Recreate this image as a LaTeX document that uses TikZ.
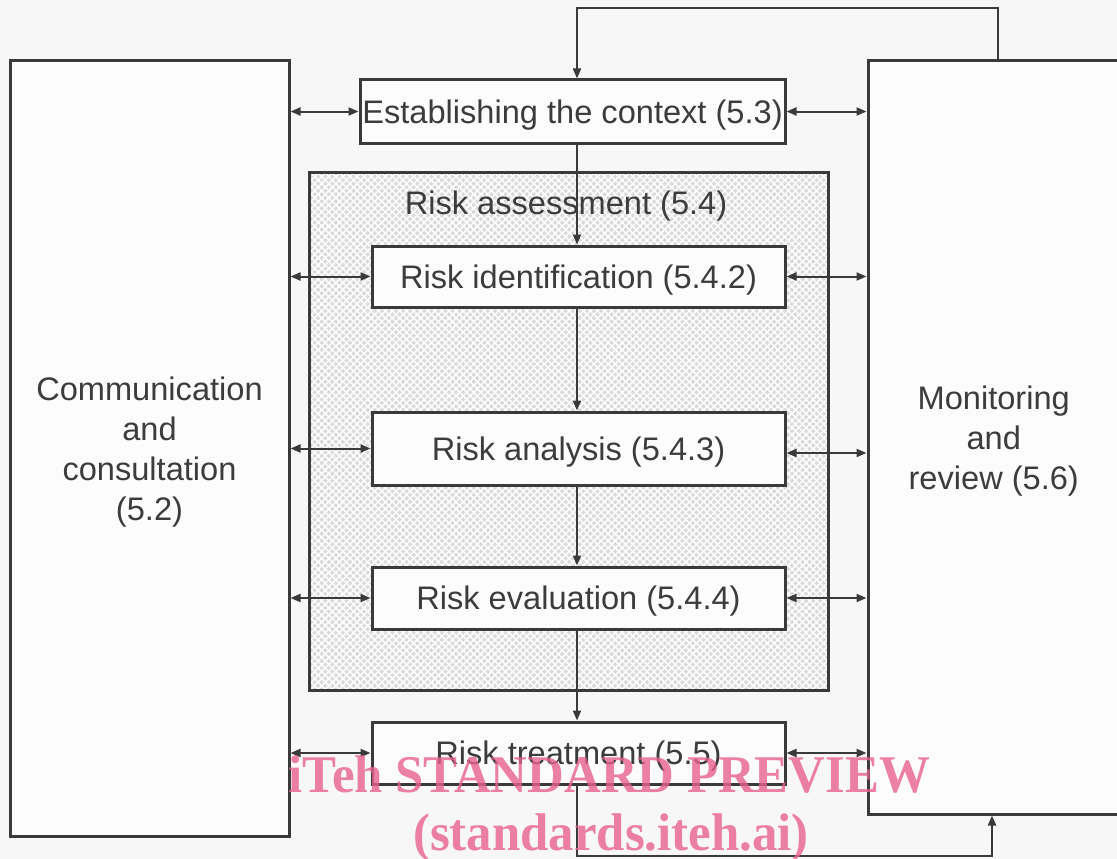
\documentclass[tikz,border=0pt]{standalone}
\usepackage{fontspec}
\usepackage{graphicx}
\setmainfont{Liberation Sans}
\newfontfamily\wmfont{Liberation Serif}
\usetikzlibrary{arrows.meta,patterns.meta,calc}
\definecolor{ln}{HTML}{3A3A3A}
\definecolor{tx}{HTML}{3C3C3C}
\definecolor{bg}{HTML}{F7F7F7}
\definecolor{bx}{HTML}{FCFCFC}
\definecolor{wmc}{HTML}{E8608F}
\begin{document}
\begin{tikzpicture}[x=1pt,y=-1pt,
  box/.style={draw=ln,line width=3pt,fill=bx,inner sep=0pt,text=tx,font=\fontsize{32.6}{40}\selectfont,align=center,text depth=0pt},
  dbl/.style={draw=ln,line width=2pt,{Triangle[length=10pt,width=8pt]}-{Triangle[length=10pt,width=8pt]}},
  flow/.style={draw=ln,line width=2pt,-{Triangle[length=10pt,width=8pt]}},
  lbl/.style={text=tx,font=\fontsize{32.6}{40}\selectfont,inner sep=0pt,text depth=0pt},
  wm/.style={text=wmc,opacity=0.8,font=\wmfont\bfseries\fontsize{53}{58}\selectfont,inner sep=0pt,anchor=base}]
\clip (0,0) rectangle (1117,859);
\fill[bg] (0,0) rectangle (1117,859);
% side boxes
\node[box,minimum width=279pt,minimum height=775pt] (comm) at (149.5,448.5) {Communication\\and\\consultation\\(5.2)};
\node[box,minimum width=251.5pt,minimum height=753pt] (mon) at (993.75,437.5) {Monitoring\\and\\review (5.6)};
% risk assessment frame
\node[fill=black!14,minimum width=518pt,minimum height=517pt,inner sep=0pt] (ra) at (569,431.5) {};
\fill[pattern={Lines[angle=45,distance=5pt,line width=1.4pt]},pattern color=white] (ra.south west) rectangle (ra.north east);
\fill[pattern={Lines[angle=-45,distance=5pt,line width=1.4pt]},pattern color=white] (ra.south west) rectangle (ra.north east);
\draw[ln,line width=3pt] (ra.south west) rectangle (ra.north east);
\node[lbl] (ralbl) at (566,203) {Risk assessment (5.4)};
% process boxes
\node[box,minimum width=425pt,minimum height=63pt] (ctx) at (572.5,111.5) {Establishing the context (5.3)};
\node[box,minimum width=413pt,minimum height=61pt] (rid) at (578.5,276.5) {Risk identification (5.4.2)};
\node[box,minimum width=413pt,minimum height=73pt] (ran) at (578.5,448.5) {Risk analysis (5.4.3)};
\node[box,minimum width=413pt,minimum height=62pt] (rev) at (578.5,598) {Risk evaluation (5.4.4)};
\node[box,minimum width=413pt,minimum height=62pt] (rtr) at (578.5,753) {Risk treatment (5.5)};
% main flow
\coordinate (col) at (577,0);
\draw[flow] (col |- ctx.south) -- (col |- rid.north);
\draw[flow] (col |- rid.south) -- (col |- ran.north);
\draw[flow] (col |- ran.south) -- (col |- rev.north);
\draw[flow] (col |- rev.south) -- (col |- rtr.north);
% feedback loops
\coordinate (topR) at (998,8);
\draw[flow] (mon.north -| topR) -- (topR) -- (col |- topR) -- (col |- ctx.north);
\coordinate (botR) at (992,856);
\draw[flow] (col |- rtr.south) -- (col |- botR) -- (botR) -- (botR |- mon.south);
% communication arrows
\draw[dbl] (comm.east |- ctx.west) -- (ctx.west);
\draw[dbl] (comm.east |- rid.west) -- (rid.west);
\draw[dbl] (comm.east |- ran.west) -- (ran.west);
\draw[dbl] (comm.east |- rev.west) -- (rev.west);
\draw[dbl] (comm.east |- rtr.west) -- (rtr.west);
% monitoring arrows
\coordinate (anR) at ([yshift=-4.5pt]ran.east);
\draw[dbl] (ctx.east) -- (mon.west |- ctx.east);
\draw[dbl] (rid.east) -- (mon.west |- rid.east);
\draw[dbl] (anR) -- (mon.west |- anR);
\draw[dbl] (rev.east) -- (mon.west |- rev.east);
\draw[dbl] (rtr.east) -- (mon.west |- rtr.east);
% watermark
\node[wm] (wm1) at (609.5,792) {\scalebox{0.96}[1]{iTeh STANDARD PREVIEW}};
\node[wm] (wm2) at (611,850) {\scalebox{0.96}[1]{(standards.iteh.ai)}};
\end{tikzpicture}
\end{document}
